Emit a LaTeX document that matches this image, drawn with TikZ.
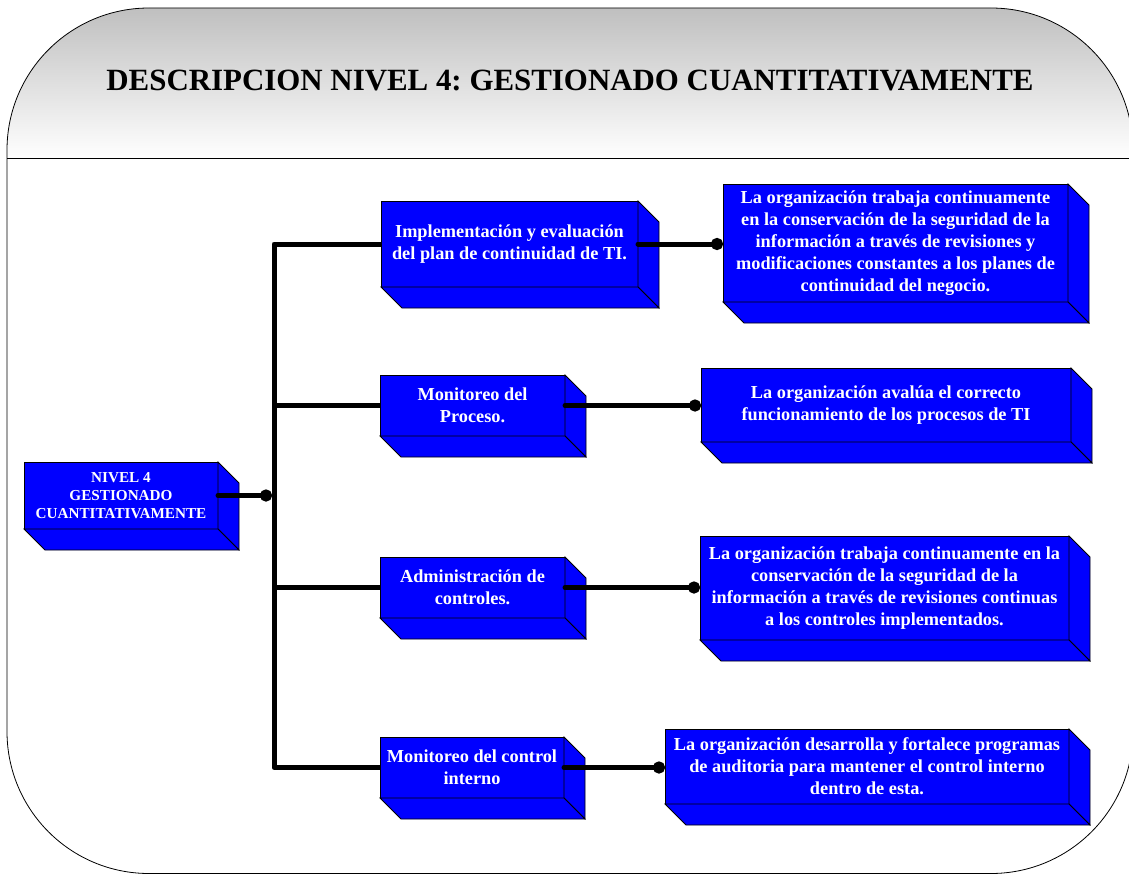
\documentclass[tikz,border=0pt]{standalone}
\usepackage{fontspec}
\setmainfont{Liberation Serif}
\usetikzlibrary{arrows.meta,calc}
\frenchspacing
\tikzset{
  face/.style={draw=black, line width=0.8pt, fill=blue},
  front/.style={face, inner sep=0pt, outer sep=0pt, text=white,
    font=\bfseries\fontsize{18.3}{22}\selectfont, align=center},
  bus/.style={line width=5pt, line join=round},
  link/.style={line width=5pt, line cap=round, -{Circle[length=12pt,width=12pt]}},
}
\newcommand\extrude[1]{%
  \filldraw[face] (#1.north east) -- ++(21,21) -- ($(#1.south east)+(21,21)$) -- (#1.south east) -- cycle;
  \filldraw[face] (#1.south west) -- ++(21,21) -- ($(#1.south east)+(21,21)$) -- (#1.south east) -- cycle;}
\begin{document}
\begin{tikzpicture}[x=1pt,y=-1pt]
\useasboundingbox (0,0) rectangle (1129,875);
% frame and header
\begin{scope}
  \clip[rounded corners=142pt] (7,8) rectangle (1133,873.5);
  \shade[top color=black!25, bottom color=white] (7,8) rectangle (1133,158);
\end{scope}
\draw[line width=0.8pt, rounded corners=142pt] (7,8) rectangle (1133,873.5);
\draw[line width=0.8pt] (7,158) -- (1133,158);
\node[anchor=base, font=\bfseries\fontsize{30.9}{36}\selectfont] (title) at (570,90)
  {DESCRIPCION NIVEL 4: GESTIONADO CUANTITATIVAMENTE};
% left box
\node[front, font=\bfseries\fontsize{15.2}{18}\selectfont, minimum width=194pt, minimum height=67pt] (L) at (121,495.5)
  {NIVEL 4\\GESTIONADO\\CUANTITATIVAMENTE};
\extrude{L}
% middle boxes
\node[front, minimum width=257pt, minimum height=86pt] (m1) at (509.5,244)
  {Implementación y evaluación\\del plan de continuidad de TI.};
\extrude{m1}
\node[front, minimum width=185pt, minimum height=61pt] (m2) at (472.5,405.5)
  {Monitoreo del\\Proceso.};
\extrude{m2}
\node[front, minimum width=185pt, minimum height=61pt] (m3) at (472.5,587.5)
  {Administración de\\controles.};
\extrude{m3}
\node[front, minimum width=184pt, minimum height=61pt] (m4) at (472,767.5)
  {Monitoreo del control\\interno};
\extrude{m4}
% right boxes
\node[front, minimum width=345pt, minimum height=118pt] (r1) at (895.5,243)
  {La organización trabaja continuamente\\en la conservación de la seguridad de la\\información a través de revisiones y\\modificaciones constantes a los planes de\\continuidad del negocio.};
\extrude{r1}
\node[front, minimum width=370pt, minimum height=74pt] (r2) at (886,405)
  {La organización avalúa el correcto\\funcionamiento de los procesos de TI};
\extrude{r2}
\node[front, minimum width=369pt, minimum height=104pt] (r3) at (884.5,588)
  {La organización trabaja continuamente en la\\conservación de la seguridad de la\\información a través de revisiones continuas\\a los controles implementados.};
\extrude{r3}
\node[front, minimum width=404pt, minimum height=75pt] (r4) at (867,766.5)
  {La organización desarrolla y fortalece programas\\de auditoria para mantener el control interno\\dentro de esta.};
\extrude{r4}
% connectors
\coordinate (c1) at (274,244);
\coordinate (c2) at (274,405.5);
\coordinate (c3) at (274,587.5);
\coordinate (c4) at (274,767.5);
\coordinate (j) at (272,495.5);
\draw[bus] (m1.west) -- (c1) -- (c4) -- (m4.west);
\draw[bus] (c2) -- (m2.west);
\draw[bus] (c3) -- (m3.west);
\draw[link] (L.east) -- (j);
\draw[link] (m1.east) -- (m1.east -| r1.west);
\draw[link] (m2.east) -- (m2.east -| r2.west);
\draw[link] (m3.east) -- (m3.east -| r3.west);
\draw[link] (m4.east) -- (m4.east -| r4.west);
\end{tikzpicture}
\end{document}
